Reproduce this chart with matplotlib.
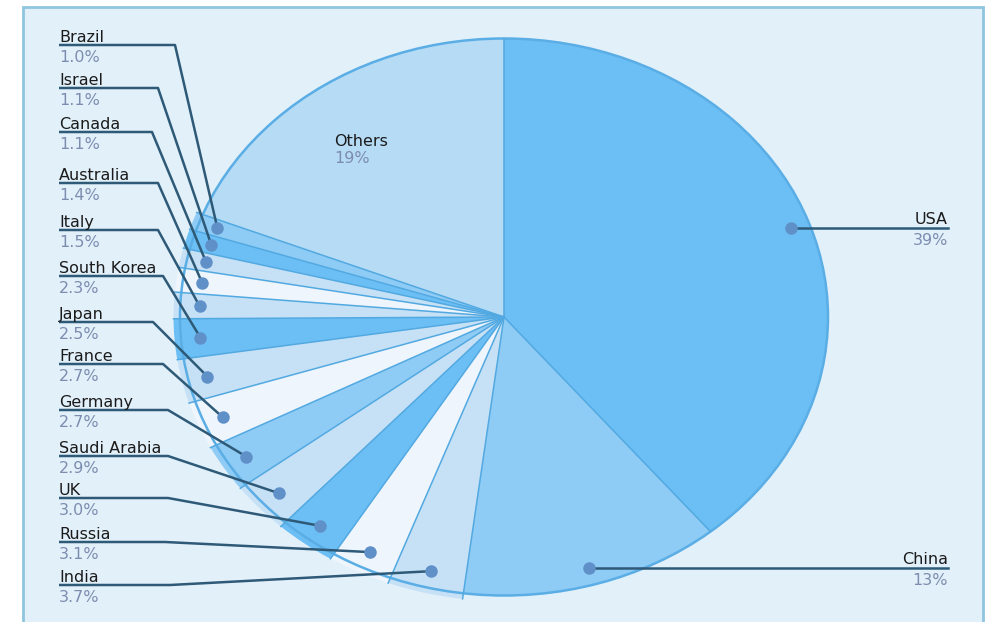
import numpy as np
import matplotlib.pyplot as plt
from matplotlib.patches import Rectangle, Circle

# -----------------------------
# DATI
# -----------------------------
countries = ["USA", "China", "India", "Russia", "UK", "Saudi Arabia", "Germany",
             "France", "Japan", "South Korea", "Italy", "Australia", "Canada",
             "Israel", "Brazil", "Others"]
shares = [39, 13, 3.7, 3.1, 3.0, 2.9, 2.7, 2.7, 2.5, 2.3, 1.5, 1.4, 1.1, 1.1, 1.0, 19]
pct_text = ["39%", "13%", "3.7%", "3.1%", "3.0%", "2.9%", "2.7%", "2.7%", "2.5%",
            "2.3%", "1.5%", "1.4%", "1.1%", "1.1%", "1.0%", "19%"]

# -----------------------------
# STILE / LAYOUT
# -----------------------------
D, M, P, W, O = "#6bbff4", "#8ecbf5", "#c6e1f6", "#eef5fc", "#b6dbf5"
colors = [D, M, P, W, D, P, M, W, P, D, P, W, P, D, M, O]
big = ("USA", "China", "Others")

W_PX, H_PX = 987, 622
CX, CY = 504, 317          # centro torta (pixel)
RX, RY = 324, 278.5        # semiassi (pixel)
PAD = 1.1                  # margine assi torta

# etichette a sinistra: y della linea e x del gomito (pixel)
left_line_y = {"Brazil": 45, "Israel": 88, "Canada": 132, "Australia": 183,
               "Italy": 230, "South Korea": 276, "Japan": 322, "France": 364,
               "Germany": 410, "Saudi Arabia": 456, "UK": 498, "Russia": 542,
               "India": 585}
left_bend_x = {"Brazil": 175, "Israel": 158, "Canada": 152, "Australia": 158,
               "Italy": 158, "South Korea": 163, "Japan": 153, "France": 163,
               "Germany": 168, "Saudi Arabia": 168, "UK": 168, "Russia": 165,
               "India": 170}
LABEL_X = 59
RIGHT_X = 948

name_col = "#1b1b1b"
pct_col = "#7d8db0"
line_col = "#2e5a78"
dot_col = "#6090c8"
edge_col = "#52a9e1"
FS = 11.5

fig = plt.figure(figsize=(W_PX / 100, H_PX / 100), dpi=100)

# sfondo con cornice
bg = fig.add_axes([0, 0, 1, 1], zorder=0)
bg.set_xlim(0, W_PX)
bg.set_ylim(H_PX, 0)
bg.axis("off")
bg.add_patch(Rectangle((23, 7), 960, 640, facecolor="#e2f0fa",
                       edgecolor="#8fc5df", lw=2))

# -----------------------------
# TORTA
# -----------------------------
ax = fig.add_axes([(CX - PAD * RX) / W_PX, (H_PX - CY - PAD * RY) / H_PX,
                   2 * PAD * RX / W_PX, 2 * PAD * RY / H_PX], zorder=1)
wedges, _ = ax.pie(shares, colors=colors, startangle=90, counterclock=False,
                   radius=1, wedgeprops=dict(edgecolor="none", linewidth=0))
rad = []
for i, w in enumerate(wedges):
    r = 1.0 if countries[i] in big else 1.02
    w.set_radius(r)
    rad.append(r)

# bordi radiali
cum = np.cumsum(shares)
bounds = 2 * np.pi * np.concatenate([[0], cum[:-1]]) / 100.0
for i, th in enumerate(bounds):
    r = max(rad[i], rad[i - 1])
    ax.plot([0, r * np.sin(th)], [0, r * np.cos(th)], color=edge_col, lw=1.1)

ax.add_patch(Circle((0, 0), 1, fill=False, edgecolor="#5aaee5", lw=1.8))
ax.set_aspect("auto")
ax.set_xlim(-PAD, PAD)
ax.set_ylim(-PAD, PAD)
ax.axis("off")

# -----------------------------
# ETICHETTE
# -----------------------------
ov = fig.add_axes([0, 0, 1, 1], zorder=2)
ov.set_xlim(0, W_PX)
ov.set_ylim(H_PX, 0)
ov.axis("off")
ov.patch.set_alpha(0)

mid = 2 * np.pi * (cum - np.array(shares) / 2) / 100.0


def to_px(r, th):
    return CX + RX * r * np.sin(th), CY - RY * r * np.cos(th)


for i, name in enumerate(countries):
    th = mid[i]
    if name == "Others":
        x, y = to_px(0.73, th)
        ov.text(x - 37, y - 3, name, color=name_col, fontsize=FS, ha="left", va="baseline")
        ov.text(x - 37, y + 14, pct_text[i], color=pct_col, fontsize=FS, ha="left", va="baseline")
        continue
    dx, dy = to_px(0.94, th)
    if name in left_line_y:
        ly = left_line_y[name]
        ov.plot([LABEL_X, left_bend_x[name], dx], [ly, ly, dy], color=line_col, lw=1.8,
                solid_capstyle="butt")
        ov.text(LABEL_X, ly - 3, name, color=name_col, fontsize=FS, ha="left", va="baseline")
        ov.text(LABEL_X, ly + 17, pct_text[i], color=pct_col, fontsize=FS, ha="left", va="baseline")
    else:
        ov.plot([dx, RIGHT_X], [dy, dy], color=line_col, lw=1.8)
        ov.text(RIGHT_X, dy - 4, name, color=name_col, fontsize=FS, ha="right", va="baseline")
        ov.text(RIGHT_X, dy + 17, pct_text[i], color=pct_col, fontsize=FS, ha="right", va="baseline")
    ov.plot(dx, dy, "o", color=dot_col, ms=9, mec="none")

fig.savefig("out.png", dpi=100, facecolor="white")
